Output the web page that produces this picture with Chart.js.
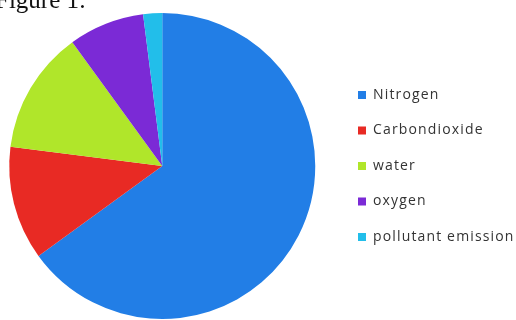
<!DOCTYPE html>
<html>
<head>
<meta charset="utf-8">
<script src="https://cdn.jsdelivr.net/npm/chart.js@4.4.1/dist/chart.umd.min.js"></script>
<style>
  html, body { margin: 0; padding: 0; background: #ffffff; overflow: hidden; }
  #wrap { position: relative; width: 516px; height: 320px; overflow: hidden; }
  #fig { position: absolute; left: -5px; top: -13px; font-family: "Liberation Serif", "Times New Roman", serif;
         font-size: 25px; line-height: 25px; color: #111; white-space: nowrap; }
  canvas { position: absolute; left: -12px; top: 0; }
</style>
</head>
<body>
<div id="wrap">
  <canvas id="c" width="528" height="320"></canvas>
  <div id="fig">Figure 1:</div>
</div>
<script>
const categories = ["Nitrogen", "Carbondioxide", "water", "oxygen", "pollutant emission"];
const shares = [65, 12, 13, 8, 2];
const sliceColors = ["#227ee6", "#e82a24", "#b0e62a", "#7b2ad6", "#22beea"];

const LETTER_SPACING = "1.15px";
const LEGEND_WIDTH = 179.5;

function patchLegend(chart) {
  if (chart.legend && !chart.legend._patched) {
    const lg = chart.legend;
    const orig = lg.fit.bind(lg);
    lg.fit = function () { orig(); this.width = LEGEND_WIDTH; };
    lg._patched = true;
    return true;
  }
  return false;
}

const spacingPlugin = {
  id: "spacing",
  afterInit(chart) { patchLegend(chart); },
  beforeLayout(chart) { chart.ctx.letterSpacing = LETTER_SPACING; },
  beforeDraw(chart) { chart.ctx.letterSpacing = LETTER_SPACING; }
};

const chart = new Chart(document.getElementById("c"), {
  type: "pie",
  data: {
    labels: categories,
    datasets: [{
      data: shares,
      backgroundColor: sliceColors,
      borderWidth: 0
    }]
  },
  options: {
    responsive: false,
    animation: false,
    devicePixelRatio: 1,
    layout: { padding: { left: 0, right: 0, top: 13, bottom: 1 } },
    plugins: {
      tooltip: { enabled: false },
      legend: {
        position: "right",
        align: "center",
        labels: {
          boxWidth: 8,
          boxHeight: 8,
          padding: 21.5,
          color: "#333333",
          font: { family: "'Open Sans'", size: 14 }
        }
      }
    }
  },
  plugins: [spacingPlugin]
});
if (patchLegend(chart)) chart.update();
</script>
</body>
</html>
